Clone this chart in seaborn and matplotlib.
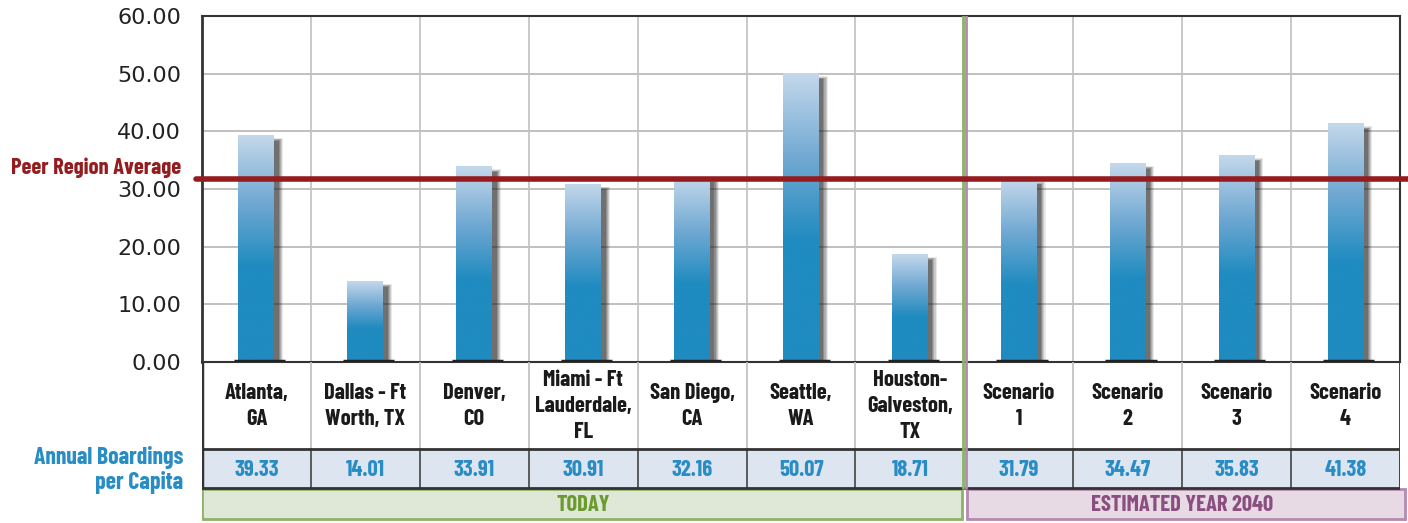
"""Annual boardings per capita: peer regions today vs. 2040 scenarios."""

import matplotlib
matplotlib.use("Agg")
import matplotlib.pyplot as plt
import matplotlib.patches as mpatches
from matplotlib import font_manager as fm
from matplotlib.colors import LinearSegmentedColormap
import numpy as np
import pandas as pd
import seaborn as sns

# ---- data ----
categories = [
    "Atlanta,\nGA", "Dallas - Ft\nWorth, TX", "Denver,\nCO", "Miami - Ft\nLauderdale,\nFL",
    "San Diego,\nCA", "Seattle,\nWA", "Houston-\nGalveston,\nTX",
    "Scenario\n1", "Scenario\n2", "Scenario\n3", "Scenario\n4",
]
boardings = [39.33, 14.01, 33.91, 30.91, 32.16, 50.07, 18.71, 31.79, 34.47, 35.83, 41.38]
value_labels = ["39.33", "14.01", "33.91", "30.91", "32.16", "50.07", "18.71",
                "31.79", "34.47", "35.83", "41.38"]
peer_average = 31.8
groups = ["TODAY", "ESTIMATED YEAR 2040"]
group_sizes = [7, 4]
y_ticks = [0, 10, 20, 30, 40, 50, 60]

# pick a condensed bold face if one is installed
available = {f.name for f in fm.fontManager.ttflist}
condensed = [n for n in ["Barlow Condensed", "Roboto Condensed", "Archivo Narrow",
                         "PT Sans Narrow", "Fira Sans Condensed", "Open Sans Condensed",
                         "Liberation Sans Narrow"] if n in available]
COND = [condensed[0], "DejaVu Sans"] if condensed else ["DejaVu Sans"]

RED = "#951c1e"
BLUE_TXT = "#2a8cc4"

sns.set_style("white")
plt.rcParams["font.family"] = ["DejaVu Sans"]

W, H = 1408, 523
fig = plt.figure(figsize=(W / 100, H / 100), dpi=100)

# scale the condensed font so "Peer Region Average" is ~170 px wide, as in the chart
probe = fig.text(0, 0, "Peer Region Average", fontsize=15, fontweight="bold", family=COND)
probe_w = probe.get_window_extent(fig.canvas.get_renderer()).width
probe.remove()
FS = min(19, 15 * 170 / probe_w)


def fig_box(x0, y0, x1, y1):
    return [x0 / W, 1 - y1 / H, (x1 - x0) / W, (y1 - y0) / H]


ax = fig.add_axes(fig_box(202, 16, 1400, 362))
tab = fig.add_axes(fig_box(202, 362, 1400, 521))

df = pd.DataFrame({"cat": categories, "val": boardings})
sns.barplot(data=df, x="cat", y="val", color="#208cc0", width=0.33, ax=ax, zorder=3)

n = len(categories)
ax.set_xlim(-0.5, n - 0.5)
ax.set_ylim(0, 60)

# gradient fill + soft shadow for each bar
cmap = LinearSegmentedColormap.from_list(
    "bar", [(0, "#1f8bc0"), (0.42, "#1f8bc0"), (0.7, "#6fa8d2"), (1.0, "#c4d8eb")])
for p in ax.patches:
    x, w, h = p.get_x(), p.get_width(), p.get_height()
    for k, a in enumerate([0.10, 0.14, 0.18, 0.22, 0.26]):
        off = 0.08 - k * 0.01
        ax.add_patch(mpatches.Rectangle((x + off, 0), w, h - 0.5 - k * 0.12,
                                        color="#202020", alpha=a, lw=0, zorder=2))
    p.set_facecolor("none")
    p.set_edgecolor("none")
    grad = np.linspace(0, 1, 256).reshape(-1, 1)
    im = ax.imshow(grad, cmap=cmap, aspect="auto", origin="lower",
                   extent=(x, x + w, 0, h), zorder=3)
    im.set_clip_path(p)
    ax.plot([x - 0.04, x + w + 0.1], [0.1, 0.1], color="#222222", lw=2.5,
            zorder=4, solid_capstyle="butt")

ax.set_xticks([])
ax.set_xlabel("")
ax.set_ylabel("")
ax.set_yticks(y_ticks)
ax.set_yticklabels([f"{t:.2f}" for t in y_ticks], fontsize=16, color="#222222")
ax.tick_params(axis="y", length=10, width=1.2, color="#333333", pad=5)
for t in y_ticks[1:-1]:
    ax.axhline(t, color="#b5b5b5", lw=1.2, zorder=1)
for i in range(n - 1):
    ax.axvline(i + 0.5, color="#c0c0c0", lw=1.2, zorder=1)
for s in ax.spines.values():
    s.set_color("#333333")
    s.set_linewidth(1.5)
ax.spines["left"].set_linewidth(2)

# peer region average
ax.axhline(peer_average, xmin=-0.005, xmax=1.007, color=RED, lw=4, zorder=6, clip_on=False)
fig.text(181 / W, 1 - 168 / H, "Peer Region Average", ha="right", va="center",
         fontsize=FS, fontweight="bold", color=RED, family=COND)

# group divider
split = group_sizes[0] - 0.5
ax.axvline(split - 0.012, color="#8db36a", lw=2, zorder=5)
ax.axvline(split + 0.012, color="#b48ab1", lw=2, zorder=5)

# ---- table below ----
tab.set_xlim(-0.5, n - 0.5)
tab.set_ylim(159, 0)
tab.axis("off")

tab.add_patch(mpatches.Rectangle((-0.5, 87), n, 39, facecolor="#dce5f0", edgecolor="none"))
for i in range(1, n):
    if i == group_sizes[0]:
        continue
    tab.plot([i - 0.5, i - 0.5], [0, 87], color="#bdbdbd", lw=1.2)
    tab.plot([i - 0.5, i - 0.5], [87, 126], color="#444444", lw=1.2)
tab.plot([-0.5, n - 0.5], [87, 87], color="#333333", lw=2)
tab.plot([-0.5, n - 0.5], [126, 126], color="#333333", lw=2)
tab.plot([-0.5, -0.5], [0, 126], color="#333333", lw=2.5)
tab.plot([n - 0.5, n - 0.5], [0, 126], color="#333333", lw=2)
tab.plot([split - 0.012] * 2, [0, 126], color="#8db36a", lw=2)
tab.plot([split + 0.012] * 2, [0, 126], color="#b48ab1", lw=2)

for i, (c, v) in enumerate(zip(categories, value_labels)):
    tab.text(i, 44, c, ha="center", va="center", fontsize=FS, fontweight="bold",
             color="#1a1a1a", family=COND, linespacing=1.4)
    tab.text(i, 108, v, ha="center", va="center", fontsize=FS, fontweight="bold",
             color=BLUE_TXT, family=COND)

# group row
tab.add_patch(mpatches.Rectangle((-0.5, 127), group_sizes[0] - 0.02, 30,
                                 facecolor="#dfe7d6", edgecolor="#8db36a", lw=2))
tab.add_patch(mpatches.Rectangle((split + 0.02, 127), group_sizes[1] + 0.03, 30,
                                 facecolor="#e7dae4", edgecolor="#b48ab1", lw=2, clip_on=False))
tab.text((group_sizes[0] - 1) / 2, 143, groups[0], ha="center", va="center",
         fontsize=FS, fontweight="bold", color="#6b9a2f", family=COND)
tab.text(group_sizes[0] + (group_sizes[1] - 1) / 2, 143, groups[1], ha="center", va="center",
         fontsize=FS, fontweight="bold", color="#8a4f80", family=COND)

fig.text(183 / W, 1 - 470 / H, "Annual Boardings\nper Capita", ha="right", va="center",
         fontsize=FS * 1.05, fontweight="bold", color=BLUE_TXT, family=COND, linespacing=1.1)

fig.savefig("out.png", dpi=100)
